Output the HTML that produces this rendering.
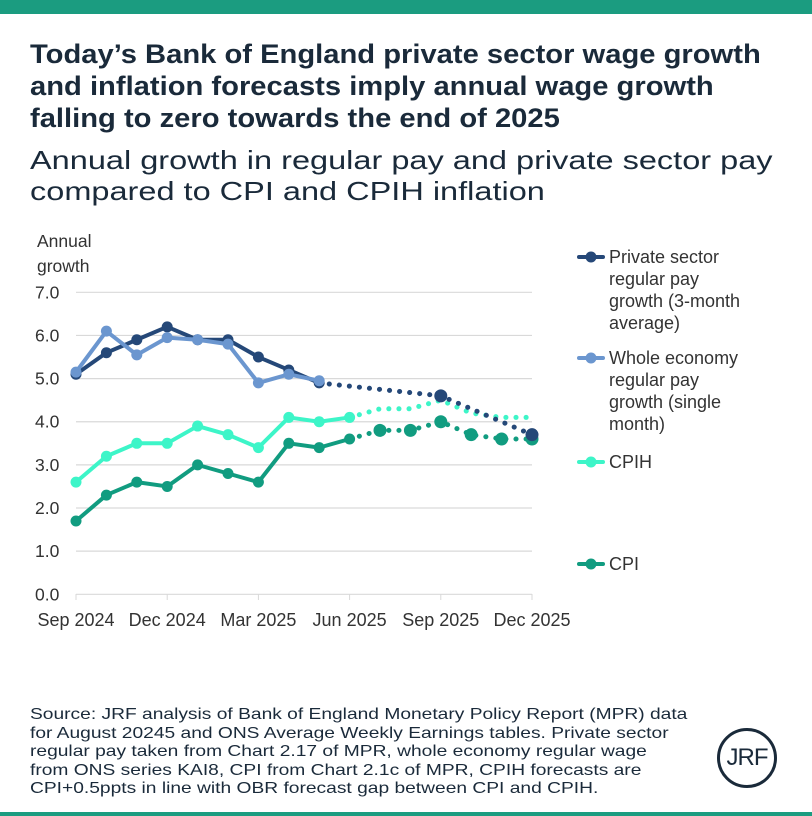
<!DOCTYPE html>
<html><head><meta charset="utf-8"><style>
body{margin:0;background:#fff;font-family:"Liberation Sans",sans-serif;}
#w{position:relative;width:812px;height:816px;overflow:hidden;background:#fff;}
.t{position:absolute;left:30px;top:38px;font-size:27px;font-weight:bold;color:#1a2a3a;line-height:32px;white-space:nowrap;transform:scaleX(1.08);transform-origin:0 0;}
.s{position:absolute;left:30px;top:145px;font-size:26px;color:#1a2a3a;line-height:31px;white-space:nowrap;transform:scaleX(1.25);transform-origin:0 0;}
.src{position:absolute;left:30px;top:706px;font-size:16px;color:#1a2a3a;line-height:18.5px;white-space:nowrap;transform:scaleX(1.2);transform-origin:0 0;}
svg text{font-family:"Liberation Sans",sans-serif;}
</style></head><body>
<div id="w">
<div style="position:absolute;left:0;top:0;width:812px;height:14px;background:#1b9c80"></div>
<div class="t">Today’s Bank of England private sector wage growth<br>and inflation forecasts imply annual wage growth<br>falling to zero towards the end of 2025</div>
<div class="s">Annual growth in regular pay and private sector pay<br>compared to CPI and CPIH inflation</div>
<svg id="c" width="812" height="816" style="position:absolute;left:0;top:0"></svg>
<div class="src">Source: JRF analysis of Bank of England Monetary Policy Report (MPR) data<br>for August 20245 and ONS Average Weekly Earnings tables. Private sector<br>regular pay taken from Chart 2.17 of MPR, whole economy regular wage<br>from ONS series KAI8, CPI from Chart 2.1c of MPR, CPIH forecasts are<br>CPI+0.5ppts in line with OBR forecast gap between CPI and CPIH.</div>
<div style="position:absolute;left:717px;top:728px;width:60px;height:60px;border:3px solid #1a2a3a;border-radius:50%;box-sizing:border-box;text-align:center;line-height:54px;font-size:24px;color:#1a2a3a;letter-spacing:-1px">JRF</div>
<div style="position:absolute;left:0;top:812px;width:812px;height:4px;background:#1b9c80"></div>
</div>
<script>
const xLabels=["Sep 2024","Dec 2024","Mar 2025","Jun 2025","Sep 2025","Dec 2025"];
const yTicks=[0,1,2,3,4,5,6,7];
const privActual=[5.1,5.6,5.9,6.2,5.9,5.9,5.5,5.2,4.9];
const privForecastIdx=[8,12,15];
const privForecast=[4.9,4.6,3.7];
const wholeActual=[5.15,6.1,5.55,5.95,5.9,5.8,4.9,5.1,4.95];
const cpihActual=[2.6,3.2,3.5,3.5,3.9,3.7,3.4,4.1,4.0,4.1];
const cpihForecast=[4.1,4.3,4.3,4.5,4.2,4.1,4.1];
const cpiActual=[1.7,2.3,2.6,2.5,3.0,2.8,2.6,3.5,3.4,3.6];
const cpiForecast=[3.6,3.8,3.8,4.0,3.7,3.6,3.6];
const X=i=>76+i*30.4, Y=v=>594.3-v*43.14;
const svg=document.getElementById('c');const NS='http://www.w3.org/2000/svg';
function el(t,a,p){const e=document.createElementNS(NS,t);for(const k in a)e.setAttribute(k,a[k]);(p||svg).appendChild(e);return e;}
yTicks.forEach(v=>{const g=el('line',{x1:76,x2:532,y1:Y(v),y2:Y(v),stroke:'#d9d9d9','stroke-width':1.2});


const t=el('text',{x:35,y:Y(v)+6,'font-size':17.5,fill:'#333'});t.textContent=v.toFixed(1);

});
xLabels.forEach((l,i)=>{el('line',{x1:X(i*3),x2:X(i*3),y1:594,y2:600,stroke:'#d9d9d9'});
const t=el('text',{x:X(i*3),y:626,'font-size':18,fill:'#333','text-anchor':'middle'});t.textContent=l;

});
const ya=el('text',{x:37,y:247,'font-size':17.5,fill:'#333'});ya.textContent='Annual';


const yb=el('text',{x:37,y:272,'font-size':17.5,fill:'#333'});yb.textContent='growth';


function series(vals,idx,col,name,dotted,mark,r){
 const pts=vals.map((v,k)=>X(idx[k])+','+Y(v)).join(' ');
 const p=el('polyline',{points:pts,fill:'none',stroke:col,'stroke-width':dotted?5:4,'stroke-linecap':'round','stroke-linejoin':'round','stroke-dasharray':dotted?'0.1 10':'none'});
 
 
 vals.forEach((v,k)=>{if(mark&&!mark(k))return;const c=el('circle',{cx:X(idx[k]),cy:Y(v),r:r,fill:col});
 
 });
}
const rng=(n,s)=>Array.from({length:n},(_,i)=>i+s);
series(cpihForecast,rng(7,9),'#3df5c8','cpih-forecast',true,()=>false,0);
series(cpiForecast,rng(7,9),'#119c80','cpi-forecast',true,k=>k>0,6.5);
series(privForecast,privForecastIdx,'#254878','private-forecast',true,k=>k>0,6.5);
series(cpihActual,rng(10,0),'#3df5c8','cpih',false,()=>true,5.5);
series(cpiActual,rng(10,0),'#119c80','cpi',false,()=>true,5.5);
series(privActual,rng(9,0),'#254878','private-sector-pay',false,()=>true,5.5);
series(wholeActual,rng(9,0),'#6b96cf','whole-economy-pay',false,k=>true,5.5);
const leg=[['#254878',["Private sector","regular pay","growth (3-month","average)"],257,'legend-private'],
['#6b96cf',["Whole economy","regular pay","growth (single","month)"],358,'legend-whole-economy'],
['#3df5c8',["CPIH"],462,'legend-cpih'],['#119c80',["CPI"],564,'legend-cpi']];
leg.forEach(([c,lines,y,n])=>{const g=el('g',{});
el('line',{x1:579,x2:603,y1:y,y2:y,stroke:c,'stroke-width':4,'stroke-linecap':'round'},g);
el('circle',{cx:591,cy:y,r:5.5,fill:c},g);
lines.forEach((l,i)=>{const t=el('text',{x:609,y:y+6+i*22,'font-size':18,fill:'#333'},g);t.textContent=l;});});
</script>
</body></html>
